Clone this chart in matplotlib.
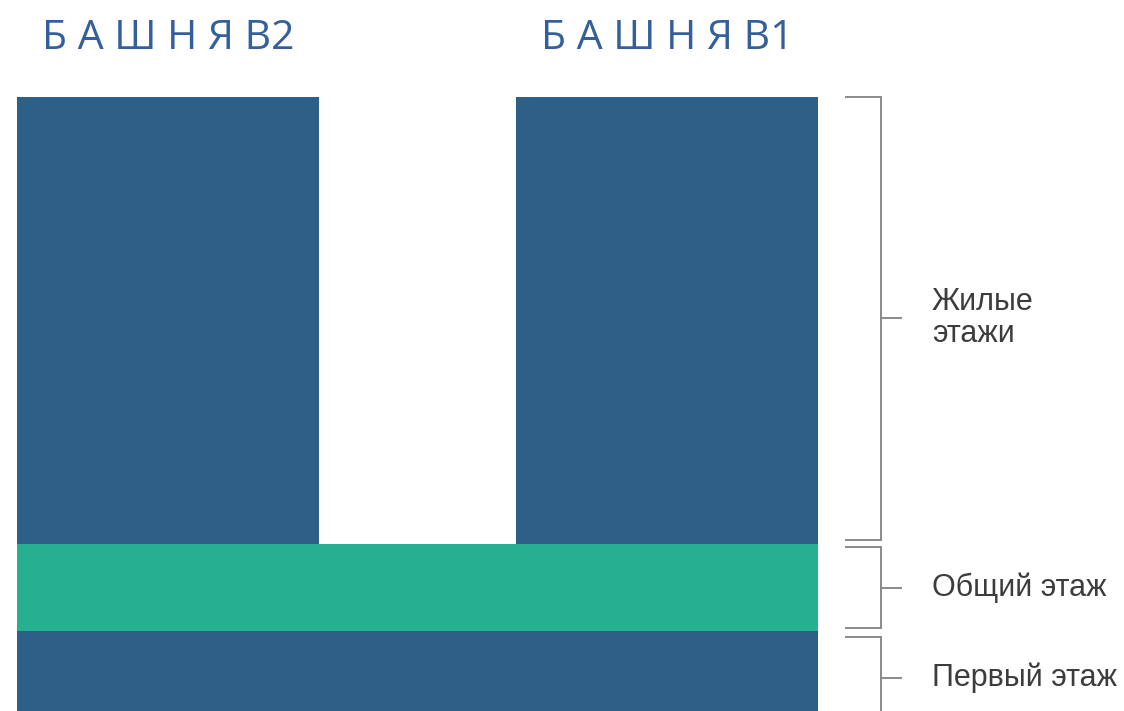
import matplotlib
matplotlib.use("Agg")
import matplotlib.pyplot as plt

# Data (diagram coordinates, y downward)
towers = ["Б А Ш Н Я В2", "Б А Ш Н Я В1"]
tower_left = [17, 516]
tower_width = [302, 302]
tower_top = [97, 97]
tower_bottom = [544, 544]

bands = ["Общий этаж", "Первый этаж"]
band_top = [544, 631]
band_bottom = [631, 720]
band_left = 17
band_right = 818

labels = ["Жилые\nэтажи", "Общий этаж", "Первый этаж"]
bracket_top = [97, 547, 637]
bracket_bottom = [540, 628, 730]
bracket_mid = [318, 588, 678]

dark = "#2e5f87"
green = "#27b090"
grey = "#8a8a8a"

fig = plt.figure(figsize=(11.24, 7.11), dpi=100)
ax = fig.add_axes([0, 0, 1, 1])
ax.set_xlim(0, 1124)
ax.set_ylim(711, 0)
ax.axis("off")

# towers
for name, l, w, t, b in zip(towers, tower_left, tower_width, tower_top, tower_bottom):
    ax.bar(l, b - t, width=w, bottom=t, align="edge", color=dark, linewidth=0)
    ax.text(l + w / 2, 39, name, ha="center", va="center", fontsize=29.5,
            color="#33609a", family=["Open Sans", "DejaVu Sans"])

# bands
band_colors = [green, dark]
for t, b, c in zip(band_top, band_bottom, band_colors):
    ax.bar(band_left, b - t, width=band_right - band_left, bottom=t, align="edge",
           color=c, linewidth=0)

# brackets
bx0, bx1, bx2 = 846, 881, 901
for lab, t, b, m in zip(labels, bracket_top, bracket_bottom, bracket_mid):
    ax.plot([bx0, bx1, bx1, bx0], [t, t, b, b], color=grey, lw=1.4, solid_joinstyle="miter")
    ax.plot([bx1, bx2], [m, m], color=grey, lw=1.4)
    ax.text(932, m, lab, ha="left", va="center", fontsize=22, color="#3c3c3c",
            family=["Liberation Sans", "DejaVu Sans"], linespacing=1.1)

fig.savefig("out.png", dpi=100)
